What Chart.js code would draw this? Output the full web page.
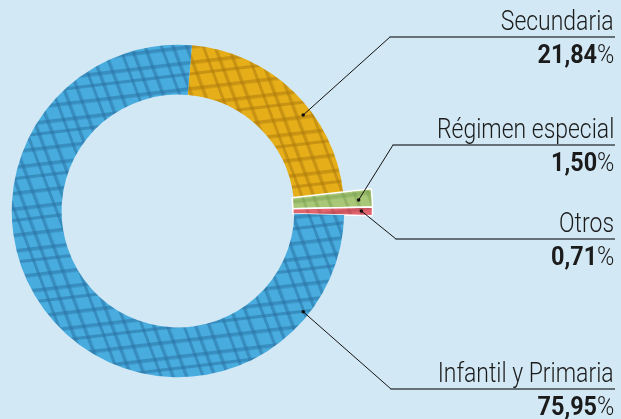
<!DOCTYPE html>
<html><head><meta charset="utf-8">
<script src="https://cdn.jsdelivr.net/npm/chart.js@4.4.1/dist/chart.umd.min.js"></script>
<style>
html,body{margin:0;padding:0;background:#d2e8f4;}
#wrap{position:relative;width:621px;height:419px;overflow:hidden;background:#d2e8f4;}
#c{position:absolute;left:0;top:0;}
.lbl{position:absolute;right:7px;font-family:Roboto,"DejaVu Sans Condensed",sans-serif;color:#1b1b1b;white-space:nowrap;line-height:1;transform-origin:100% 50%;}
.name{font-size:28px;font-weight:300;transform:scaleX(0.82);}
.val{font-size:26px;font-weight:300;transform:scaleX(0.9);}
.val b{font-weight:700;}
</style></head>
<body><div id="wrap"><canvas id="c" width="621" height="419"></canvas></div>
<script>
// ---- data ----
const categories = ["Secundaria", "Régimen especial", "Otros", "Infantil y Primaria"];
const shares = [21.84, 1.50, 0.71, 75.95];
const shareLabels = ["21,84", "1,50", "0,71", "75,95"];

// ---- style / layout ----
const fillColors = ["#e6af1a", "#a8c777", "#e2646e", "#48acde"];
const lineColors = ["rgba(170,120,10,0.5)", "rgba(120,160,80,0.45)", "rgba(180,70,80,0.45)", "rgba(40,110,160,0.5)"];
const popOutFactor = [1, 1.17, 1.17, 1];
const leaders = [
  {af: 0.607, rf: 0.83, lineY: 37, cornerX: 390},
  {af: 0.57, rf: 0.83, lineY: 145, cornerX: 393},
  {af: 0.46, rf: 0.86, lineY: 239, cornerX: 396},
  {af: 0.137, rf: 0.89, lineY: 389, cornerX: 391}
];
const lineEndX = 615;

function makePattern(base, line) {
  const S = 40;
  const t = document.createElement('canvas');
  t.width = S; t.height = S;
  const g = t.getContext('2d');
  g.fillStyle = base; g.fillRect(0, 0, S, S);
  g.fillStyle = line;
  [[0, 3.5], [11, 3], [25, 3.5]].forEach(([y, w]) => g.fillRect(0, y, S, w));
  [[0, 3.5], [16, 3], [27, 3.5]].forEach(([x, w]) => g.fillRect(x, 0, w, S));
  const p = g.createPattern(t, 'repeat');
  if (p.setTransform) p.setTransform(new DOMMatrix([1, -0.12, 0.38, 1, 0, 0]));
  return p;
}
const patterns = fillColors.map((c, i) => makePattern(c, lineColors[i]));

const popOut = {
  id: 'popOut',
  afterDatasetUpdate(chart, args) {
    args.meta.data.forEach((arc, i) => {
      arc.outerRadius = arc.outerRadius * popOutFactor[i];
      arc.innerRadius = arc.innerRadius - (popOutFactor[i] > 1 ? 1.5 : 0);
    });
  }
};

const leaderPlugin = {
  id: 'leaders',
  afterDatasetsDraw(chart) {
    const ctx = chart.ctx;
    chart.getDatasetMeta(0).data.forEach((arc, i) => {
      const L = leaders[i];
      const a = arc.startAngle + L.af * (arc.endAngle - arc.startAngle);
      const r = arc.innerRadius + L.rf * (arc.outerRadius - arc.innerRadius);
      const px = arc.x + r * Math.cos(a), py = arc.y + r * Math.sin(a);
      ctx.save();
      ctx.strokeStyle = '#111';
      ctx.lineWidth = 1;
      ctx.beginPath(); ctx.moveTo(px, py); ctx.lineTo(L.cornerX, L.lineY); ctx.stroke();
      ctx.strokeStyle = '#3f4a50';
      ctx.lineWidth = 1.6;
      ctx.beginPath(); ctx.moveTo(L.cornerX - 0.5, L.lineY); ctx.lineTo(lineEndX, L.lineY); ctx.stroke();
      ctx.fillStyle = '#111';
      ctx.beginPath(); ctx.arc(px, py, 1.8, 0, Math.PI * 2); ctx.fill();
      ctx.restore();
    });
  }
};

new Chart(document.getElementById('c'), {
  type: 'doughnut',
  data: {
    labels: categories,
    datasets: [{
      data: shares,
      backgroundColor: patterns,
      borderColor: '#ffffff',
      borderWidth: [0, 1.5, 1.5, 0]
    }]
  },
  options: {
    responsive: false,
    devicePixelRatio: 1,
    animation: false,
    events: [],
    rotation: 4.8,
    cutout: '70%',
    layout: {padding: {left: 11, top: 44, right: 276, bottom: 41}},
    plugins: {legend: {display: false}, tooltip: {enabled: false}}
  },
  plugins: [popOut, leaderPlugin]
});

// ---- labels ----
const wrap = document.getElementById('wrap');
categories.forEach((name, i) => {
  const y = leaders[i].lineY;
  const n = document.createElement('div');
  n.className = 'lbl name';
  n.textContent = name;
  n.style.top = (y - 6 - 0.87 * 28) + 'px';
  wrap.appendChild(n);
  const v = document.createElement('div');
  v.className = 'lbl val';
  const b = document.createElement('b');
  b.textContent = shareLabels[i];
  v.appendChild(b);
  v.appendChild(document.createTextNode('%'));
  v.style.top = (y + 27 - 0.87 * 26) + 'px';
  wrap.appendChild(v);
});
</script>
</body></html>
